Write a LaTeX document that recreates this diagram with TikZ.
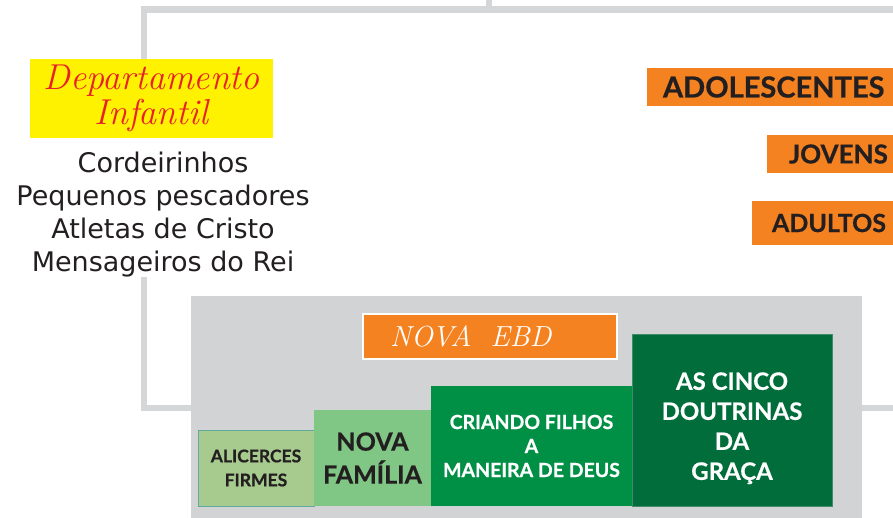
\documentclass[tikz,border=0pt]{standalone}
\usepackage{fontspec}
\setsansfont{DejaVu Sans}
\newfontfamily\caixafont{Lato}[BoldFeatures={FakeBold=0.6}]
\usetikzlibrary{positioning}

\definecolor{linhacinza}{HTML}{D5D6D8}
\definecolor{painelcinza}{HTML}{D1D3D4}
\definecolor{amarelo}{HTML}{FFF200}
\definecolor{vermelho}{HTML}{E8202A}
\definecolor{laranja}{HTML}{F58220}
\definecolor{escuro}{HTML}{231F20}
\definecolor{verdeclaro}{HTML}{A7CA8F}
\definecolor{verdeteal}{HTML}{5FA99D}
\definecolor{verdemedio}{HTML}{80C785}
\definecolor{verde}{HTML}{009045}
\definecolor{verdeescuro}{HTML}{006D3A}
\definecolor{verdeborda}{HTML}{3F8C6A}

\tikzstyle{every node}=[inner sep=0pt, outer sep=0pt, align=center]
\tikzstyle{conector}=[draw=linhacinza, line width=6.5pt]
\tikzstyle{faixa}=[fill=laranja, anchor=west, text=escuro, inner xsep=16pt, minimum height=38pt, font={\caixafont\bfseries\fontsize{29}{30}\selectfont}]
\tikzstyle{bloco}=[anchor=south west, font=\caixafont\bfseries]

\begin{document}
\begin{tikzpicture}[x=1pt,y=-1pt]
    \clip (0,0) rectangle (893,517);

    % painel da nova EBD
    \node [fill=painelcinza, minimum width=671pt, minimum height=224pt] (painel) at (526.5,408) {};
    \node [fill=laranja, draw=white, line width=1.2pt, inner xsep=27pt, text width=200pt, align=left, minimum height=45pt,
           text=white, font={\itshape\fontsize{29}{30}\selectfont}] (ebd) at (490,336.5) {NOVA\ \ EBD};

    \node [bloco, fill=verdeclaro, draw=verdeteal, line width=1pt, minimum width=116pt, minimum height=76pt,
           text=escuro, font={\caixafont\bfseries\fontsize{17.5}{24}\selectfont}] (alicerces) at (198,506) {ALICERCES\\FIRMES};
    \node [bloco, fill=verdemedio, minimum width=117pt, minimum height=96pt,
           text=escuro, font={\caixafont\bfseries\fontsize{25}{33}\selectfont}] (familia) at (alicerces.south east) {NOVA\\FAMÍLIA};
    \node [bloco, fill=verde, minimum width=201pt, minimum height=120pt,
           text=white, font={\caixafont\bfseries\fontsize{19.5}{24}\selectfont}] (filhos) at (familia.south east) {CRIANDO FILHOS\\A\\MANEIRA DE DEUS};
    \node [bloco, fill=verdeescuro, draw=verdeborda, line width=1pt, minimum width=200pt, minimum height=172pt,
           text=white, font={\caixafont\bfseries\fontsize{24}{30}\selectfont}] (doutrinas) at (filhos.south east)
        {\rule{0pt}{34pt}AS CINCO\\DOUTRINAS\\DA\\GRAÇA};

    % departamento infantil
    \node [fill=amarelo, minimum width=243pt, minimum height=79pt, text=vermelho,
           font={\itshape\fontsize{36}{35}\selectfont}] (dep) at (151.5,98.5) {Departamento\\Infantil};
    \node [text=escuro, font={\sffamily\fontsize{27}{33}\selectfont}] (lista) at (163,214.5)
        {Cordeirinhos\\Pequenos pescadores\\Atletas de Cristo\\Mensageiros do Rei};

    % faixas da direita
    \node [faixa] (adolescentes) at (647,87) {ADOLESCENTES};
    \node [faixa, inner xsep=22pt, font={\caixafont\bfseries\fontsize{26}{30}\selectfont}] (jovens) at (767,154) {JOVENS};
    \node [faixa, inner xsep=20pt, minimum height=44pt, font={\caixafont\bfseries\fontsize{25}{30}\selectfont}] (adultos) at (752,223) {ADULTOS};

    % ligacoes
    \coordinate (ramo) at (144,9.5);
    \coordinate (topo) at (489,-5);
    \coordinate (fim) at (900,9.5);
    \coordinate (saida) at (900,408);
    \draw [conector] (topo) -- (topo |- ramo);
    \draw [conector] (dep.north -| ramo) -- (ramo) -- (fim);
    \draw [conector] (lista.south -| ramo) |- (painel.west);
    \draw [conector] (painel.east) -- (saida);
\end{tikzpicture}
\end{document}
